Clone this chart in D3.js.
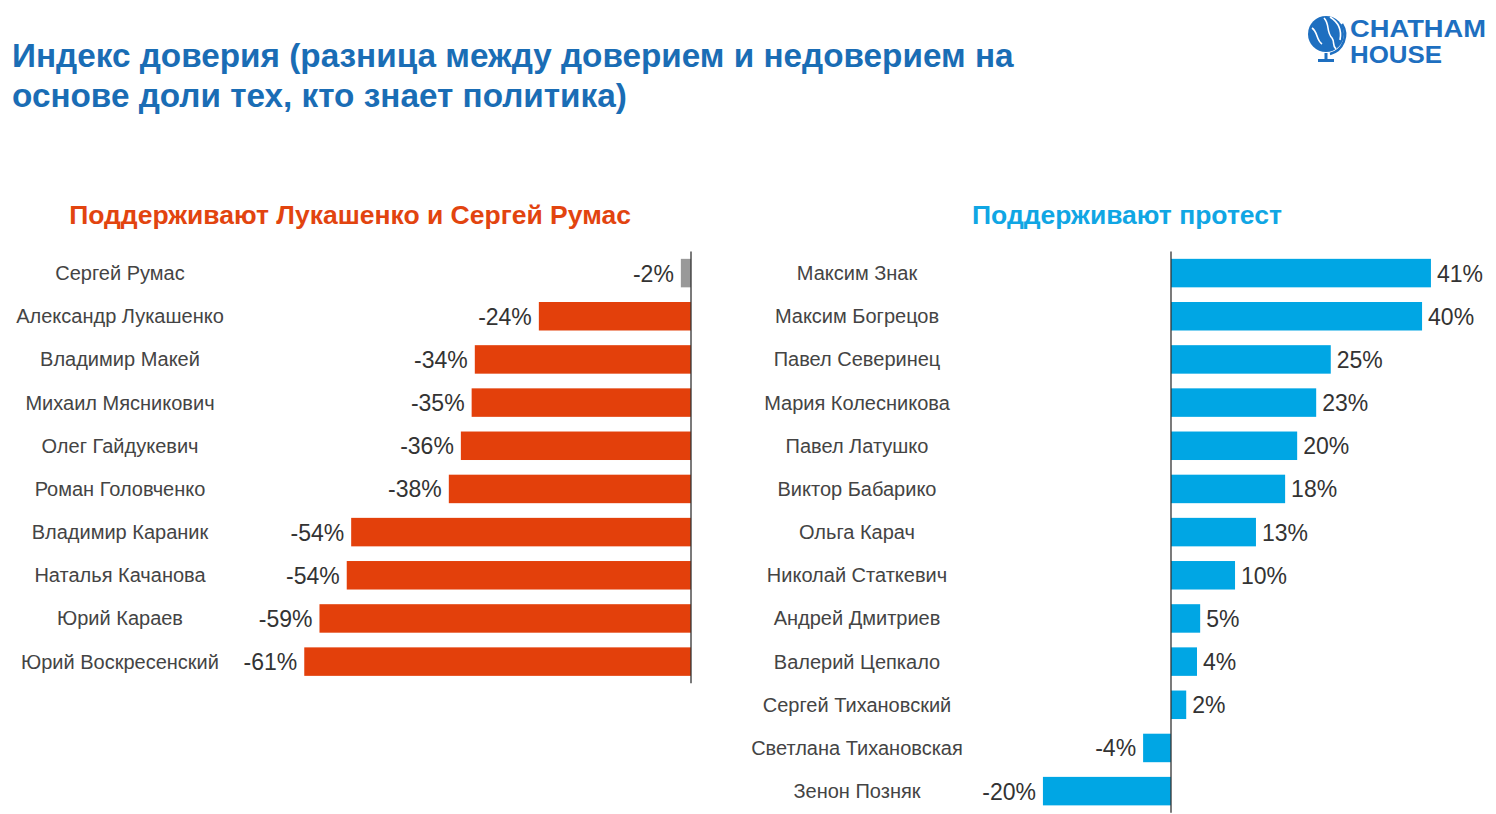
<!DOCTYPE html>
<html><head><meta charset="utf-8">
<script src="https://cdn.jsdelivr.net/npm/d3@7/dist/d3.min.js"></script>
<style>html,body{margin:0;padding:0;background:#fff;}svg{display:block;font-family:"Liberation Sans",Arial,sans-serif;}</style>
</head><body>
<svg id="chart" width="1496" height="814"></svg>
<script>
const titleLines = ["Индекс доверия (разница между доверием и недоверием на", "основе доли тех, кто знает политика)"];
const leftTitle = "Поддерживают Лукашенко и Сергей Румас";
const rightTitle = "Поддерживают протест";
const leftNames = ["Сергей Румас","Александр Лукашенко","Владимир Макей","Михаил Мясникович","Олег Гайдукевич","Роман Головченко","Владимир Караник","Наталья Качанова","Юрий Караев","Юрий Воскресенский"];
const leftValues = [-1.6,-24,-34.1,-34.6,-36.3,-38.2,-53.6,-54.3,-58.6,-61];
const rightNames = ["Максим Знак","Максим Богрецов","Павел Северинец","Мария Колесникова","Павел Латушко","Виктор Бабарико","Ольга Карач","Николай Статкевич","Андрей Дмитриев","Валерий Цепкало","Сергей Тихановский","Светлана Тихановская","Зенон Позняк"];
const rightValues = [41,39.6,25.2,22.9,19.9,18,13.4,10.1,4.6,4.1,2.4,-4.4,-20.2];

const svg = d3.select("#chart");
const fmt = v => Math.round(v) + "%";
const pxPer = 6.34;
const band = 43.17, top0 = 251.5;

// Title
svg.append("g").selectAll("text").data(titleLines).join("text")
  .attr("x", 12).attr("y", (d,i)=>67+i*40)
  .attr("font-size", 33.3).attr("font-weight", "bold").attr("fill", "#1a6db5")
  .text(d=>d);

// Logo
const logo = svg.append("g").attr("transform","translate(1326,34)");
logo.append("circle").attr("r",18).attr("fill","#1e6fc0");
logo.append("path").attr("d","M-14,-6 C-8,-2 -10,6 -4,10 M-2,-16 C4,-10 0,-2 6,4 C9,8 6,12 10,15 M4,-17 C12,-12 16,-4 14,6")
  .attr("fill","none").attr("stroke","#fff").attr("stroke-width",1.6);
logo.append("path").attr("d","M16,-10 A20,20 0 0 1 4,20").attr("fill","none").attr("stroke","#1e6fc0").attr("stroke-width",2.5);
logo.append("rect").attr("x",-1.5).attr("y",19).attr("width",3).attr("height",6).attr("fill","#1e6fc0");
logo.append("rect").attr("x",-8).attr("y",25).attr("width",16).attr("height",3).attr("fill","#1e6fc0");
svg.append("text").attr("x",1350).attr("y",37).attr("font-size",23).attr("font-weight","bold").attr("fill","#1e6fc0")
  .attr("textLength",136).attr("lengthAdjust","spacingAndGlyphs").text("CHATHAM");
svg.append("text").attr("x",1350).attr("y",63).attr("font-size",23).attr("font-weight","bold").attr("fill","#1e6fc0")
  .attr("textLength",92).attr("lengthAdjust","spacingAndGlyphs").text("HOUSE");

function panel(names, values, zeroX, dom, nameX, title, titleX, titleColor, colorFn) {
  const x = d3.scaleLinear().domain(dom).range([zeroX + dom[0]*pxPer, zeroX + dom[1]*pxPer]);
  const y = d3.scaleBand().domain(names).range([top0, top0 + band*names.length]).paddingInner(0.34).paddingOuter(0.17);
  const g = svg.append("g");
  g.append("text").attr("x", titleX).attr("y", 224).attr("text-anchor","middle")
    .attr("font-size",26.5).attr("font-weight","bold").attr("fill",titleColor).text(title);
  const data = names.map((n,i)=>({n, v: values[i], i}));
  g.selectAll("rect.bar").data(data).join("rect").attr("class","bar")
    .attr("x", d=>x(Math.min(0,d.v))).attr("width", d=>Math.abs(x(d.v)-x(0)))
    .attr("y", d=>y(d.n)).attr("height", y.bandwidth())
    .attr("fill", d=>colorFn(d));
  g.selectAll("text.name").data(data).join("text").attr("class","name")
    .attr("x", nameX).attr("y", d=>y(d.n)+y.bandwidth()/2).attr("dy","0.35em")
    .attr("text-anchor","middle").attr("font-size",20).attr("fill","#444").text(d=>d.n);
  g.selectAll("text.val").data(data).join("text").attr("class","val")
    .attr("x", d=> d.v<0 ? x(d.v)-7 : x(d.v)+6).attr("y", d=>y(d.n)+y.bandwidth()/2).attr("dy","0.37em")
    .attr("text-anchor", d=> d.v<0 ? "end" : "start").attr("font-size",23).attr("fill","#333").text(d=>fmt(d.v));
  const r = y.range();
  g.append("line").attr("x1",x(0)).attr("x2",x(0)).attr("y1",r[0]).attr("y2",r[1]).attr("stroke","#333").attr("stroke-width",1.3);
}

panel(leftNames, leftValues, 691, [-70,0], 120, leftTitle, 350, "#e2440f", d=> d.i===0 ? "#999999" : "#e3400b");
panel(rightNames, rightValues, 1171, [-25,45], 857, rightTitle, 1127, "#10a6e4", d=>"#00a6e4");
</script>
</body></html>
